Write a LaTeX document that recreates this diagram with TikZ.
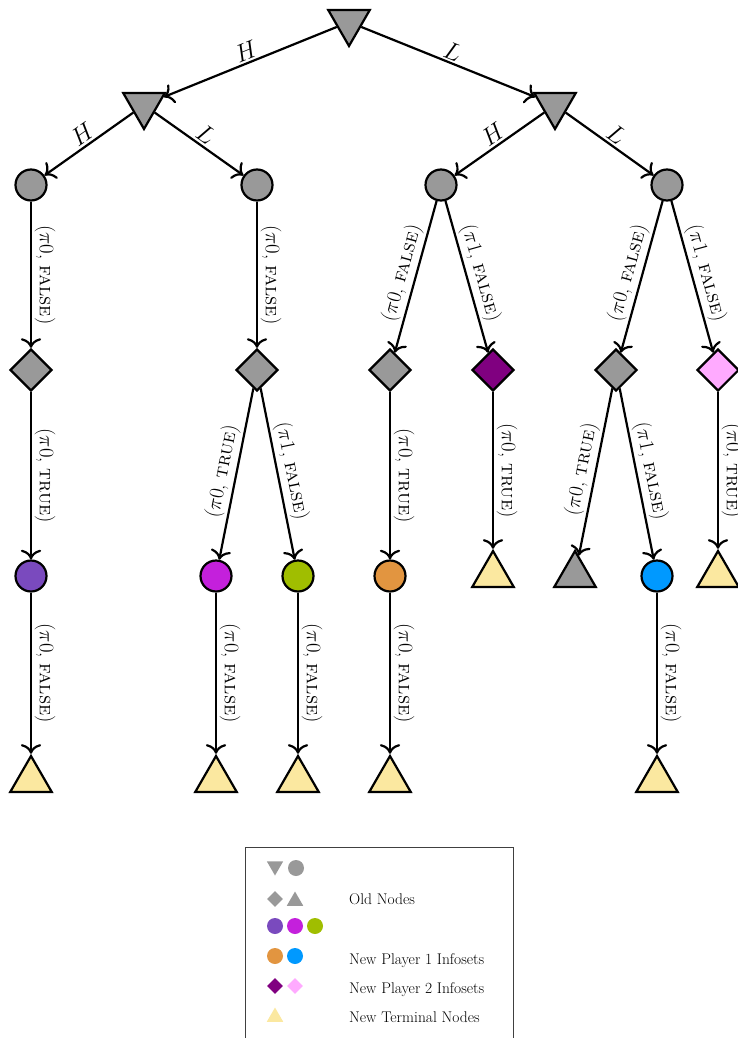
\documentclass[tikz,border=0pt]{standalone}
\usetikzlibrary{shapes.geometric,arrows.meta}
\definecolor{oldgray}{RGB}{153,153,153}
\definecolor{cpurple}{RGB}{122,74,190}
\definecolor{cmagenta}{RGB}{196,32,220}
\definecolor{cgreen}{RGB}{160,190,0}
\definecolor{corange}{RGB}{226,149,64}
\definecolor{cblue}{RGB}{0,153,255}
\definecolor{cdpurple}{RGB}{128,0,128}
\definecolor{cpink}{RGB}{255,170,255}
\definecolor{cyellow}{RGB}{251,232,160}
\newcommand{\pl}[2]{$(\pi#1$, \textsc{#2}$)$}
\begin{document}
\begin{tikzpicture}[x=1pt,y=1pt,
  base/.style={draw=black, line width=2.2pt, inner sep=0pt},
  dtri/.style={base, regular polygon, regular polygon sides=3, shape border rotate=180, minimum size=48pt, fill=oldgray},
  utri/.style={base, regular polygon, regular polygon sides=3, minimum size=48pt},
  circ/.style={base, circle, minimum size=31pt},
  dia/.style={base, diamond, minimum width=42pt, minimum height=42pt},
  arr/.style={-{To[scale=1.5]}, line width=2.2pt},
  hl/.style={sloped, above, inner sep=2pt, font=\fontsize{27}{32}\selectfont},
  pl/.style={sloped, above, inner sep=2.5pt, font=\fontsize{20}{24}\selectfont},
  ltri/.style={regular polygon, regular polygon sides=3, minimum size=19pt, inner sep=0pt},
  lcirc/.style={circle, minimum size=16pt, inner sep=0pt},
  ldia/.style={diamond, minimum width=16pt, minimum height=16pt, inner sep=0pt},
  ltext/.style={anchor=base west, inner sep=0pt, font=\fontsize{15.5}{18}\selectfont}
]
\useasboundingbox (0,0) rectangle (738,-1038);

% tree nodes
\node[dtri] (r) at (349,-22) {};
\node[dtri] (a) at (144,-105) {};
\node[dtri] (b) at (555,-105) {};
\node[circ, fill=oldgray] (c1) at (31,-185) {};
\node[circ, fill=oldgray] (c2) at (257,-185) {};
\node[circ, fill=oldgray] (c3) at (441,-185) {};
\node[circ, fill=oldgray] (c4) at (667,-185) {};
\node[dia, fill=oldgray] (d1) at (31,-370) {};
\node[dia, fill=oldgray] (d2) at (257,-370) {};
\node[dia, fill=oldgray] (d3) at (390,-370) {};
\node[dia, fill=cdpurple] (d4) at (493,-370) {};
\node[dia, fill=oldgray] (d5) at (616,-370) {};
\node[dia, fill=cpink] (d6) at (718,-370) {};
\node[circ, fill=cpurple] (e1) at (31,-576) {};
\node[circ, fill=cmagenta] (e2) at (216,-576) {};
\node[circ, fill=cgreen] (e3) at (298,-576) {};
\node[circ, fill=corange] (e4) at (390,-576) {};
\node[utri, fill=cyellow] (e5) at (493,-575) {};
\node[utri, fill=oldgray] (e6) at (575,-575) {};
\node[circ, fill=cblue] (e7) at (657,-576) {};
\node[utri, fill=cyellow] (e8) at (718,-575) {};
\node[utri, fill=cyellow] (f1) at (31,-780) {};
\node[utri, fill=cyellow] (f2) at (216,-780) {};
\node[utri, fill=cyellow] (f3) at (298,-780) {};
\node[utri, fill=cyellow] (f4) at (390,-780) {};
\node[utri, fill=cyellow] (f5) at (657,-780) {};

% edges
\draw[arr] (r) -- node[hl] {$H$} (a);
\draw[arr] (r) -- node[hl] {$L$} (b);
\draw[arr] (a) -- node[hl] {$H$} (c1);
\draw[arr] (a) -- node[hl] {$L$} (c2);
\draw[arr] (b) -- node[hl] {$H$} (c3);
\draw[arr] (b) -- node[hl] {$L$} (c4);
\draw[arr] (c1) -- node[pl] {\pl{0}{false}} (d1);
\draw[arr] (c2) -- node[pl] {\pl{0}{false}} (d2);
\draw[arr] (c3) -- node[pl] {\pl{0}{false}} (d3);
\draw[arr] (c3) -- node[pl] {\pl{1}{false}} (d4);
\draw[arr] (c4) -- node[pl] {\pl{0}{false}} (d5);
\draw[arr] (c4) -- node[pl] {\pl{1}{false}} (d6);
\draw[arr] (d1) -- node[pl] {\pl{0}{true}} (e1);
\draw[arr] (d2) -- node[pl] {\pl{0}{true}} (e2);
\draw[arr] (d2) -- node[pl] {\pl{1}{false}} (e3);
\draw[arr] (d3) -- node[pl] {\pl{0}{true}} (e4);
\draw[arr] (d4) -- node[pl] {\pl{0}{true}} (e5);
\draw[arr] (d5) -- node[pl] {\pl{0}{true}} (e6);
\draw[arr] (d5) -- node[pl] {\pl{1}{false}} (e7);
\draw[arr] (d6) -- node[pl] {\pl{0}{true}} (e8);
\draw[arr] (e1) -- node[pl] {\pl{0}{false}} (f1);
\draw[arr] (e2) -- node[pl] {\pl{0}{false}} (f2);
\draw[arr] (e3) -- node[pl] {\pl{0}{false}} (f3);
\draw[arr] (e4) -- node[pl] {\pl{0}{false}} (f4);
\draw[arr] (e7) -- node[pl] {\pl{0}{false}} (f5);

% legend
\draw[line width=0.9pt, draw=black!75] (245,-847) rectangle (513,-1070);
\node[ltri, shape border rotate=180, fill=oldgray] (l1) at (275,-866) {};
\node[lcirc, fill=oldgray] (l2) at (296,-868) {};
\node[ldia, fill=oldgray] (l3) at (275,-899) {};
\node[ltri, fill=oldgray] (l4) at (295,-901) {};
\node[lcirc, fill=cpurple] (l5) at (275,-926) {};
\node[lcirc, fill=cmagenta] (l6) at (295,-926) {};
\node[lcirc, fill=cgreen] (l7) at (315,-926) {};
\node[lcirc, fill=corange] (l8) at (275,-956) {};
\node[lcirc, fill=cblue] (l9) at (295,-956) {};
\node[ldia, fill=cdpurple] (l10) at (275,-986) {};
\node[ldia, fill=cpink] (l11) at (295,-986) {};
\node[ltri, fill=cyellow] (l12) at (275,-1017) {};
\node[ltext] (t1) at (349,-904) {Old Nodes};
\node[ltext] (t2) at (349,-964) {New Player 1 Infosets};
\node[ltext] (t3) at (349,-993) {New Player 2 Infosets};
\node[ltext] (t4) at (349,-1022) {New Terminal Nodes};
\end{tikzpicture}
\end{document}
